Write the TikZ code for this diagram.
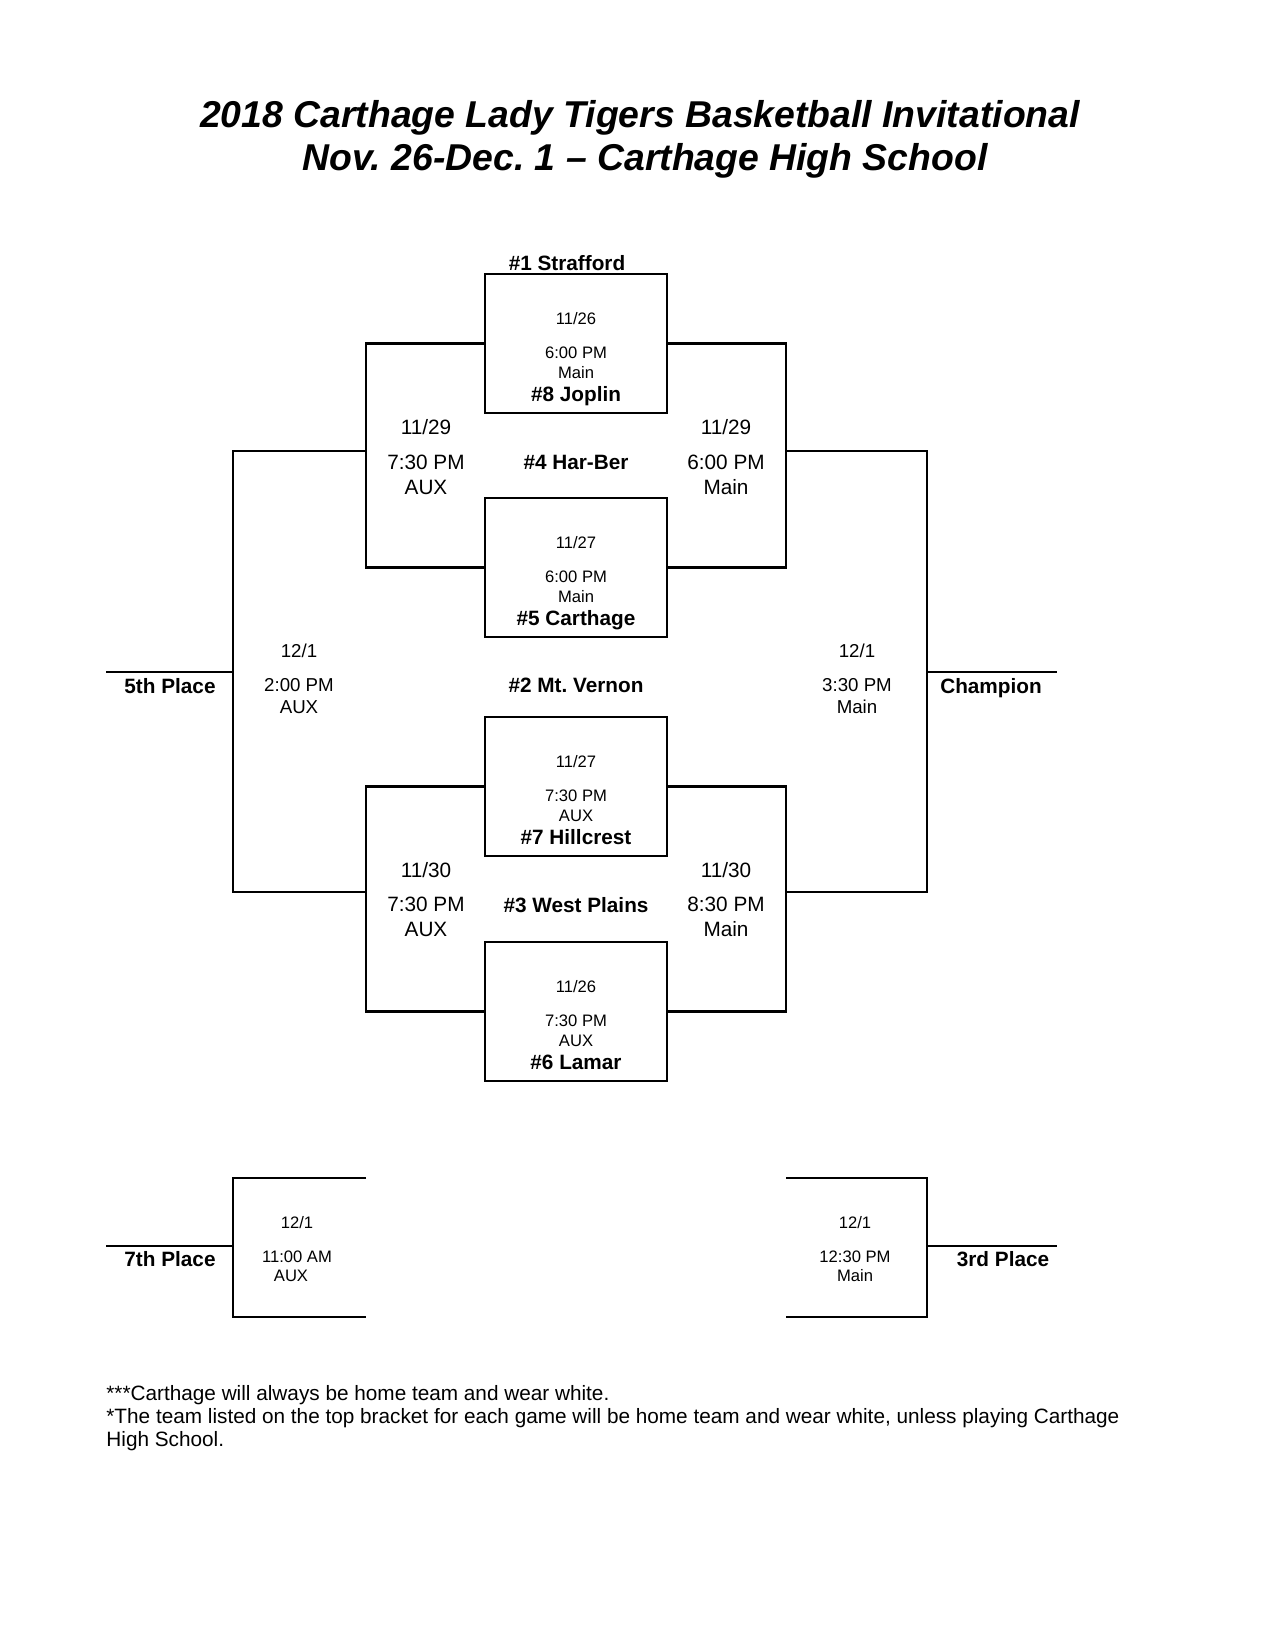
\documentclass[tikz,border=0pt]{standalone}
\usepackage{fontspec}
\setmainfont{Liberation Sans}
\frenchspacing
\begin{document}
\begin{tikzpicture}[x=0.4818pt,y=-0.4818pt,
  ln/.style={line width=1.4pt},
  gamebox/.style={draw, line width=1.4pt, inner sep=0pt, minimum width=87.7pt, minimum height=67pt},
  sm/.style={inner sep=0pt, text height=5.73pt, text depth=0pt, font=\fontsize{8}{9.6}\selectfont},
  md/.style={inner sep=0pt, text height=6.44pt, text depth=0pt, font=\fontsize{9}{10.8}\selectfont},
  lg/.style={inner sep=0pt, text height=7.16pt, text depth=0pt, font=\fontsize{10}{12}\selectfont},
  team/.style={inner sep=0pt, text height=7.16pt, text depth=0pt, font=\fontsize{10}{12}\selectfont\bfseries},
  ttl/.style={inner sep=0pt, text height=12.9pt, text depth=0pt, font=\fontsize{18}{21.6}\selectfont\bfseries\itshape},
  note/.style={inner sep=0pt, anchor=west, text height=7.16pt, text depth=0pt, font=\fontsize{10}{12}\selectfont}]
\useasboundingbox (0,0) rectangle (1275,1650);

% title
\node[ttl] (title1) at (640,114) {2018 Carthage Lady Tigers Basketball Invitational};
\node[ttl] (title2) at (645,157) {Nov. 26-Dec. 1 -- Carthage High School};

% first-round boxes
\node[gamebox] (b1) at (576,343.5) {};
\node[gamebox] (b2) at (576,567.5) {};
\node[gamebox] (b3) at (576,786.5) {};
\node[gamebox] (b4) at (576,1011.5) {};

% bracket points
\coordinate (L1) at (366,451);
\coordinate (R1) at (786,451);
\coordinate (L2) at (366,892);
\coordinate (R2) at (786,892);
\coordinate (F5) at (233,672);
\coordinate (FC) at (927,672);
\coordinate (E5) at (106,672);
\coordinate (EC) at (1057,672);

\draw[ln] (b1.west) -| (L1) |- (b2.west);
\draw[ln] (b1.east) -| (R1) |- (b2.east);
\draw[ln] (b3.west) -| (L2) |- (b4.west);
\draw[ln] (b3.east) -| (R2) |- (b4.east);
\draw[ln] (L1) -| (F5) |- (L2);
\draw[ln] (R1) -| (FC) |- (R2);
\draw[ln] (F5) -- (E5);
\draw[ln] (FC) -- (EC);

% consolation brackets
\coordinate (s7a) at (366,1178);
\coordinate (s7b) at (366,1317);
\coordinate (g7) at (233,1246);
\coordinate (e7) at (106,1246);
\coordinate (s3a) at (786,1178);
\coordinate (s3b) at (786,1317);
\coordinate (g3) at (927,1246);
\coordinate (e3) at (1057,1246);
\draw[ln] (s7a) -| (g7) |- (s7b);
\draw[ln] (g7) -- (e7);
\draw[ln] (s3a) -| (g3) |- (s3b);
\draw[ln] (g3) -- (e3);

% box 1
\node[team] (seed1) at (567,263) {\#1 Strafford};
\node[sm] (b1d) at (576,319) {11/26};
\node[sm] (b1t) at (576,353) {6:00 PM};
\node[sm] (b1g) at (576,373) {Main};
\node[team] (seed8) at (576,394) {\#8 Joplin};
% box 2
\node[sm] (b2d) at (576,543) {11/27};
\node[sm] (b2t) at (576,577) {6:00 PM};
\node[sm] (b2g) at (576,597) {Main};
\node[team] (seed5) at (576,618) {\#5 Carthage};
\node[team] (seed4) at (576,462) {\#4 Har-Ber};
% semis top
\node[lg] (sl1d) at (426,427) {11/29};
\node[lg] (sl1t) at (426,462) {7:30 PM};
\node[lg] (sl1g) at (426,487) {AUX};
\node[lg] (sr1d) at (726,427) {11/29};
\node[lg] (sr1t) at (726,462) {6:00 PM};
\node[lg] (sr1g) at (726,487) {Main};

% finals
\node[md] (f5d) at (299,651) {12/1};
\node[md] (f5t) at (299,685) {2:00 PM};
\node[md] (f5g) at (299,707) {AUX};
\node[md] (fcd) at (857,651) {12/1};
\node[md] (fct) at (857,685) {3:30 PM};
\node[md] (fcg) at (857,707) {Main};
\node[team] (seed2) at (576,685) {\#2 Mt.\ Vernon};
\node[team] (p5) at (170,686) {5th Place};
\node[team] (pc) at (991,686) {Champion};

% box 3
\node[sm] (b3d) at (576,762) {11/27};
\node[sm] (b3t) at (576,796) {7:30 PM};
\node[sm] (b3g) at (576,816) {AUX};
\node[team] (seed7) at (576,837) {\#7 Hillcrest};
% semis bottom
\node[lg] (sl2d) at (426,870) {11/30};
\node[lg] (sl2t) at (426,904) {7:30 PM};
\node[lg] (sl2g) at (426,929) {AUX};
\node[lg] (sr2d) at (726,870) {11/30};
\node[lg] (sr2t) at (726,904) {8:30 PM};
\node[lg] (sr2g) at (726,929) {Main};
\node[team] (seed3) at (576,905) {\#3 West Plains};
% box 4
\node[sm] (b4d) at (576,987) {11/26};
\node[sm] (b4t) at (576,1021) {7:30 PM};
\node[sm] (b4g) at (576,1041) {AUX};
\node[team] (seed6) at (576,1062) {\#6 Lamar};

% consolation labels
\node[sm] (c7d) at (297,1223) {12/1};
\node[sm] (c7t) at (297,1257) {11:00 AM};
\node[sm] (c7g) at (291,1276) {AUX};
\node[team] (p7) at (170,1259) {7th Place};
\node[sm] (c3d) at (855,1223) {12/1};
\node[sm] (c3t) at (855,1257) {12:30 PM};
\node[sm] (c3g) at (855,1276) {Main};
\node[team] (p3) at (1003,1259) {3rd Place};

% notes
\node[note] (n1) at (106,1393) {***Carthage will always be home team and wear white.};
\node[note] (n2) at (106,1416) {*The team listed on the top bracket for each game will be home team and wear white, unless playing Carthage};
\node[note] (n3) at (106,1439) {High School.};
\end{tikzpicture}
\end{document}
